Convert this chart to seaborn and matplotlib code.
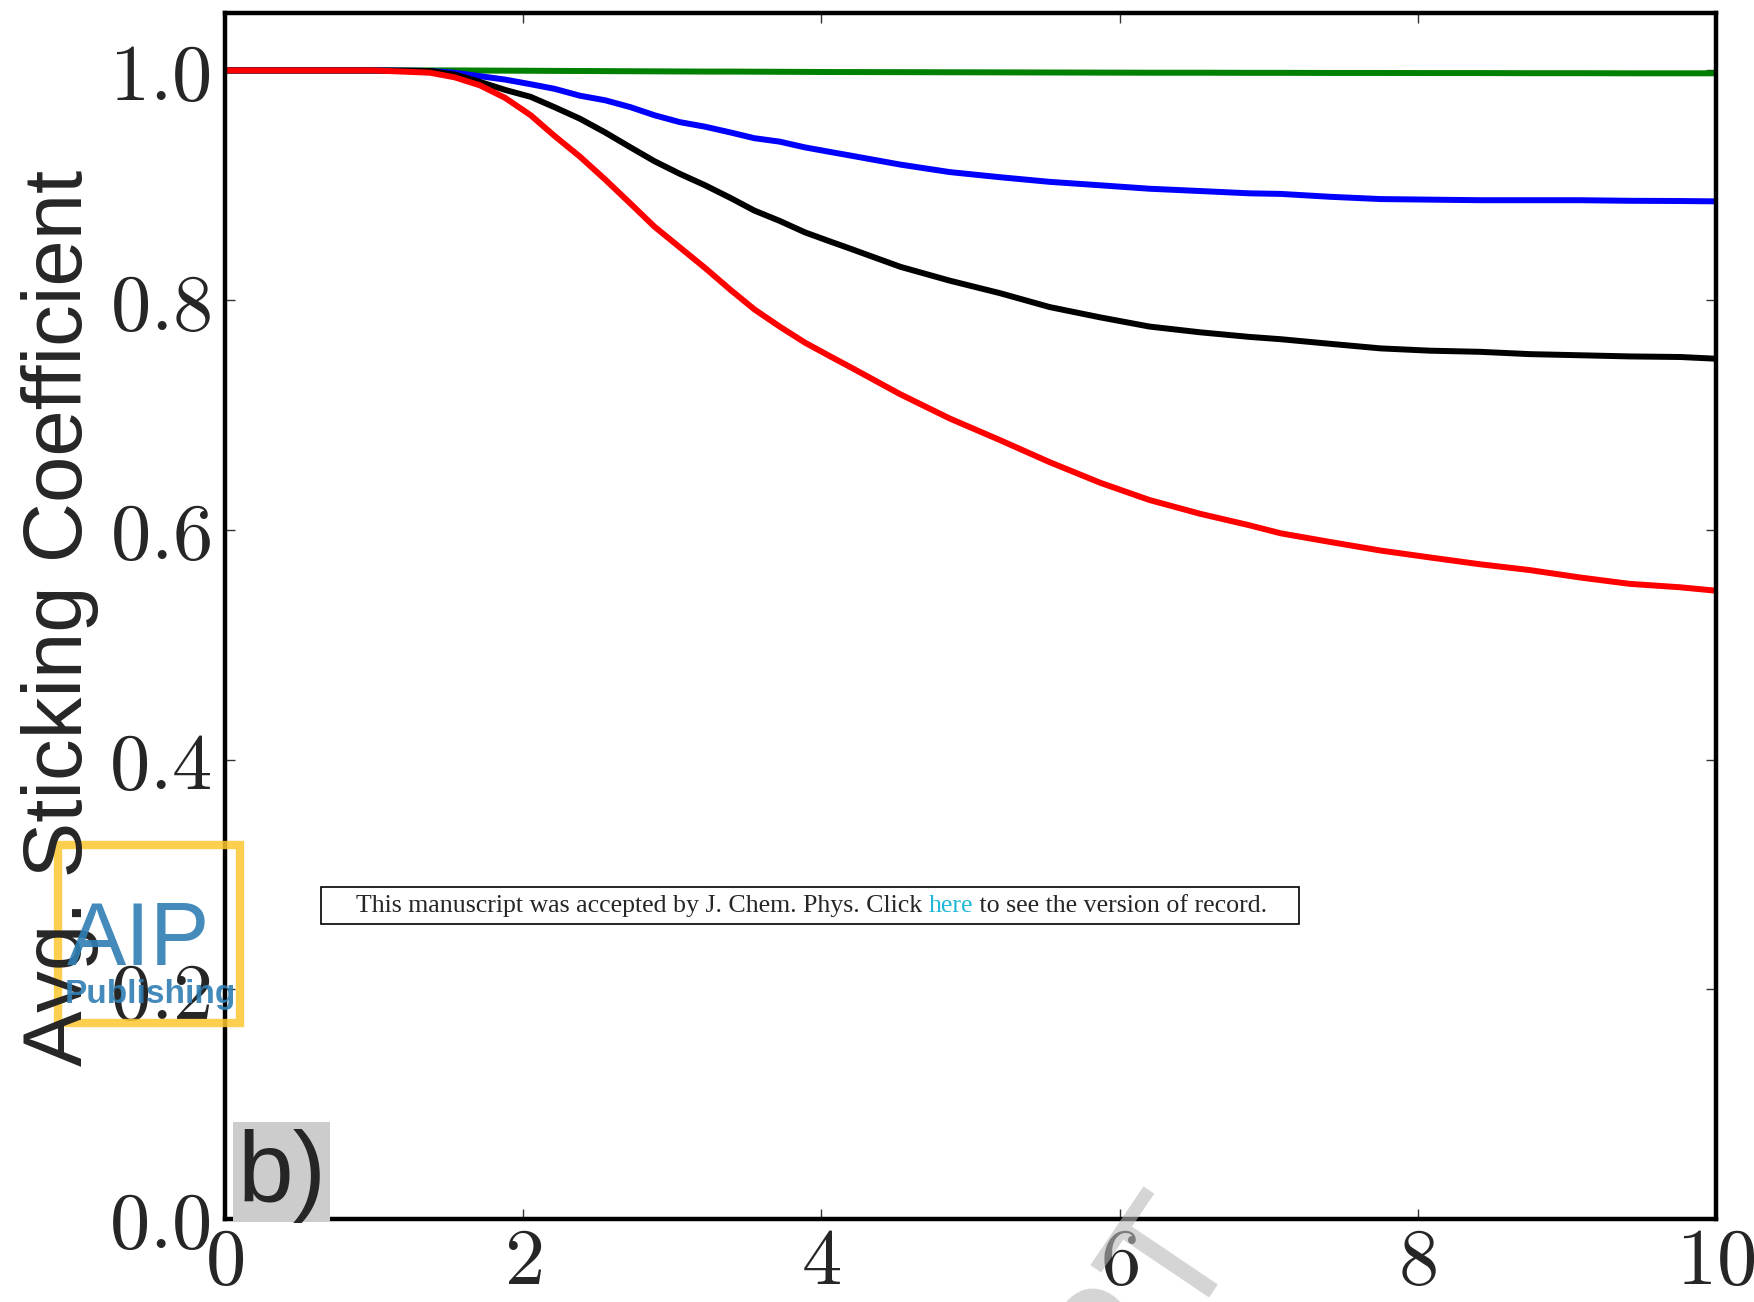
import pandas as pd
import matplotlib
matplotlib.use("Agg")
import matplotlib.pyplot as plt
from matplotlib.patches import Rectangle
import seaborn as sns

# ----------------------------------------
# Data
# ----------------------------------------
time = [0.0, 1.0, 1.375, 1.54, 1.71, 1.88, 2.05, 2.21, 2.38, 2.55, 2.72, 2.88, 3.05,
        3.22, 3.39, 3.55, 3.72, 3.89, 4.06, 4.19, 4.53, 4.86, 5.20, 5.53, 5.87, 6.20,
        6.54, 6.87, 7.08, 7.41, 7.75, 8.08, 8.42, 8.75, 9.09, 9.42, 9.76, 10.0]

green = [1.0, 1.0, 1.0, 1.0, 0.9999, 0.9998, 0.9997, 0.9996, 0.9995, 0.9994, 0.9993, 0.9992,
         0.9991, 0.999, 0.999, 0.9989, 0.9988, 0.9987, 0.9986, 0.9986, 0.9985, 0.9984, 0.9983,
         0.9982, 0.9981, 0.998, 0.998, 0.9979, 0.9979, 0.9978, 0.9978, 0.9977, 0.9977, 0.9976,
         0.9976, 0.9975, 0.9975, 0.9975]
blue = [1.0, 1.0, 0.9995, 0.998, 0.995, 0.992, 0.988, 0.984, 0.978, 0.974, 0.968, 0.961,
        0.955, 0.951, 0.946, 0.941, 0.938, 0.933, 0.929, 0.926, 0.918, 0.9115, 0.907, 0.903,
        0.900, 0.897, 0.895, 0.893, 0.8925, 0.890, 0.888, 0.8875, 0.887, 0.887, 0.887,
        0.8865, 0.8863, 0.886]
black = [1.0, 1.0, 0.9995, 0.9965, 0.990, 0.983, 0.977, 0.968, 0.958, 0.946, 0.933, 0.921,
         0.910, 0.900, 0.889, 0.878, 0.869, 0.859, 0.851, 0.845, 0.829, 0.817, 0.806, 0.794,
         0.785, 0.777, 0.772, 0.768, 0.766, 0.762, 0.758, 0.756, 0.755, 0.753, 0.752, 0.751,
         0.7505, 0.749]
red = [1.0, 1.0, 0.998, 0.994, 0.987, 0.976, 0.961, 0.943, 0.925, 0.905, 0.884, 0.864,
       0.846, 0.828, 0.809, 0.792, 0.777, 0.763, 0.751, 0.742, 0.718, 0.697, 0.678, 0.659,
       0.641, 0.626, 0.614, 0.604, 0.597, 0.5895, 0.582, 0.576, 0.570, 0.565, 0.5585, 0.553,
       0.550, 0.547]

series_names = ["green", "blue", "black", "red"]
series_colors = ["#008000", "#0000ff", "#000000", "#ff0000"]

x_ticks = [0, 2, 4, 6, 8, 10]
y_ticks = [0.0, 0.2, 0.4, 0.6, 0.8, 1.0]

df = pd.DataFrame({
    "time": time * 4,
    "value": green + blue + black + red,
    "series": [n for n in series_names for _ in time],
})

# ----------------------------------------
# Style
# ----------------------------------------
sns.set_style("ticks")
plt.rcParams["font.family"] = ["Liberation Sans", "DejaVu Sans"]
plt.rcParams["mathtext.fontset"] = "cm"

fig = plt.figure(figsize=(17.54, 13.02), dpi=100)
ax = fig.add_axes([225 / 1754, 83 / 1302, 1491 / 1754, 1206 / 1302])

sns.lineplot(data=df, x="time", y="value", hue="series", hue_order=series_names,
             palette=series_colors, linewidth=4.3, legend=False, ax=ax)

ax.set_xlim(0, 10)
ax.set_ylim(0, 1.05)
ax.set_xticks(x_ticks)
ax.set_xticklabels([f"${v}$" for v in x_ticks], fontsize=58)
ax.set_yticks(y_ticks)
ax.set_yticklabels([f"${v:.1f}$" for v in y_ticks], fontsize=58)
ax.tick_params(direction="in", top=True, right=True, length=7, width=1, color="#333333")
ax.tick_params(axis="x", pad=4)
ax.tick_params(axis="y", pad=10)
ax.set_xlabel("")
ax.set_ylabel("")
for sp in ax.spines.values():
    sp.set_linewidth(3.2)
    sp.set_color("black")

fig.text(60 / 1754, 1 - 618 / 1302, "Avg. Sticking Coefficient", rotation=90,
         ha="center", va="center", fontsize=60)

# panel label
ax.add_patch(Rectangle((8 / 1491, -3 / 1206), 97 / 1491, 100 / 1206, transform=ax.transAxes,
                       facecolor="#cccccc", edgecolor="none", zorder=4, clip_on=False))
ax.text(13 / 1491, 17 / 1206, "b)", transform=ax.transAxes, fontsize=72, ha="left",
        va="baseline", zorder=5)

# ----------------------------------------
# Publisher overlays
# ----------------------------------------
fig.patches.append(Rectangle((321 / 1754, 1 - 924 / 1302), 978 / 1754, 37 / 1302,
                             transform=fig.transFigure, fill=False, edgecolor="black",
                             linewidth=1.2))
t1 = fig.text(356 / 1754, 1 - 906 / 1302,
              "This manuscript was accepted by J. Chem. Phys. Click ",
              family=["Liberation Serif"], fontsize=18.6, ha="left", va="center")
t2 = ax.annotate("here", xycoords=t1, xy=(1, 0), va="bottom", ha="left",
                 family=["Liberation Serif"], fontsize=18.6, color="#1fb8d8",
                 annotation_clip=False)
ax.annotate(" to see the version of record.", xycoords=t2, xy=(1, 0), va="bottom",
            ha="left", family=["Liberation Serif"], fontsize=18.6, annotation_clip=False)

fig.patches.append(Rectangle((58 / 1754, 1 - 1023 / 1302), 182 / 1754, 178 / 1302,
                             transform=fig.transFigure, fill=False, edgecolor="#fdc72f",
                             linewidth=6, alpha=0.85))
fig.text(139 / 1754, 1 - 942 / 1302, "AIP", fontsize=64, color="#2f7fb5", alpha=0.9,
         ha="center", va="center")
fig.text(150 / 1754, 1 - 995 / 1302, "Publishing", fontsize=24, fontweight="bold",
         color="#2f7fb5", alpha=0.9, ha="center", va="center")

# diagonal watermark, almost entirely below the page edge
fig.text(1243 / 1754, 1 - 1248 / 1302, "ACCEPTED MANUSCRIPT", rotation=56,
         rotation_mode="anchor", fontsize=121, color="#b8b8b8", alpha=0.6,
         ha="right", va="baseline")

fig.savefig("out.png", dpi=100)
